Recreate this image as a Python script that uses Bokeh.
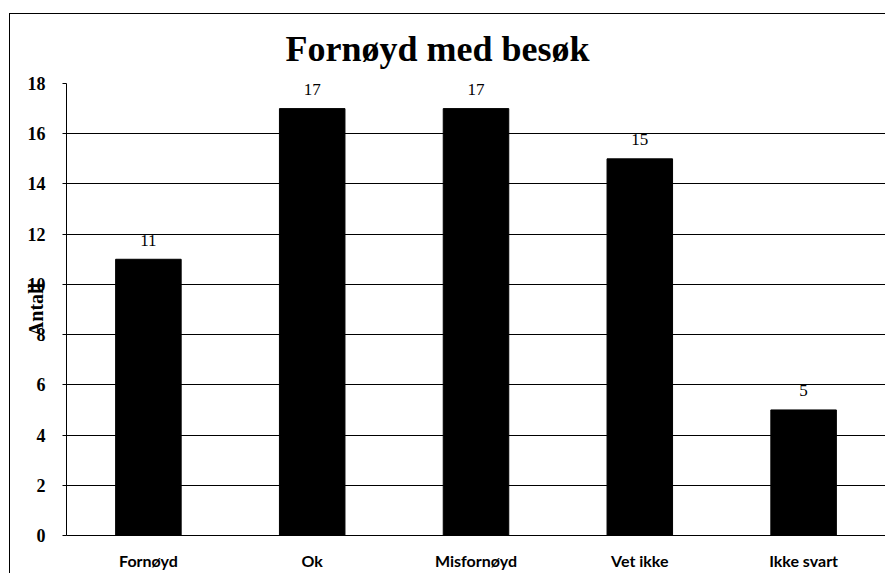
from bokeh.plotting import figure
from bokeh.models import ColumnDataSource
from bokeh.core.properties import value
from bokeh.embed import file_html
from bokeh.resources import INLINE

categories = ["Fornøyd", "Ok", "Misfornøyd", "Vet ikke", "Ikke svart"]
counts = [11, 17, 17, 15, 5]
y_ticks = [0, 2, 4, 6, 8, 10, 12, 14, 16, 18]

src = ColumnDataSource(dict(cat=categories, n=counts, lbl=[str(v) for v in counts]))

p = figure(x_range=categories, y_range=(0, 18), width=885, height=573,
           output_backend="svg", toolbar_location=None,
           min_border_left=66, min_border_right=0, min_border_top=83,
           min_border_bottom=38,
           title="Fornøyd med besøk",
           styles={"background": "linear-gradient(#000,#000) 9px 13px / 1px 100% no-repeat, "
                                 "linear-gradient(#000,#000) 9px 13px / 100% 1px no-repeat, #fff"})
p.outline_line_color = None
p.background_fill_color = "white"
p.border_fill_alpha = 0

p.title.text_font = "Liberation Serif"
p.title.text_font_style = "bold"
p.title.text_font_size = "36px"
p.title.text_color = "black"
p.title.align = "left"
p.title.offset = 219
p.title.standoff = 30
p.title.text_line_height = 0.85

p.vbar(x="cat", top="n", width=0.4, source=src, color="black")
p.text(x="cat", y="n", text="lbl", source=src, text_align="center",
       text_baseline="alphabetic", y_offset=-19,
       text_font=value("Liberation Serif"), text_font_size="17px", text_color="black")

p.yaxis.ticker = y_ticks
p.yaxis.axis_label = "Antall"
p.yaxis.axis_label_text_font = "Liberation Serif"
p.yaxis.axis_label_text_font_style = "bold"
p.yaxis.axis_label_text_font_size = "20px"
p.yaxis.axis_label_text_color = "black"
p.yaxis.axis_label_standoff = -22
p.yaxis.major_label_text_font = "Liberation Serif"
p.yaxis.major_label_text_font_style = "bold"
p.yaxis.major_label_text_font_size = "18px"
p.yaxis.major_label_text_color = "black"
p.yaxis.major_label_standoff = 17
p.yaxis.major_tick_in = 0
p.yaxis.major_tick_out = 4
p.yaxis.minor_tick_line_color = None
p.yaxis.axis_line_color = "black"
p.yaxis.major_tick_line_color = "black"

p.xaxis.major_label_text_font = "Lato"
p.xaxis.major_label_text_font_style = "bold"
p.xaxis.major_label_text_font_size = "16px"
p.xaxis.major_label_text_color = "black"
p.xaxis.major_label_standoff = 15
p.xaxis.major_tick_in = 0
p.xaxis.major_tick_out = 0
p.xaxis.major_tick_line_color = None
p.xaxis.axis_line_color = "black"

p.xgrid.grid_line_color = None
p.ygrid.grid_line_color = "black"
p.ygrid.grid_line_width = 1

open("out.html", "w").write(file_html(p, INLINE))
